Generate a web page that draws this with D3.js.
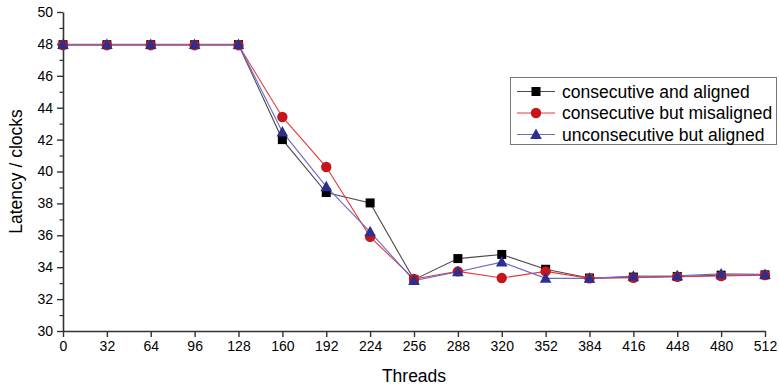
<!DOCTYPE html>
<html>
<head>
<meta charset="utf-8">
<script src="https://cdn.jsdelivr.net/npm/d3@7"></script>
<style>
  html, body { margin: 0; padding: 0; background: #fff; }
  svg { display: block; font-family: "Liberation Sans", Arial, sans-serif; }
</style>
</head>
<body>
<svg id="chart" width="779" height="389"></svg>
<script>
// Latency vs threads for three access patterns

const threads = [0, 32, 64, 96, 128, 160, 192, 224, 256, 288, 320, 352, 384, 416, 448, 480, 512]
const xTicks = [0, 32, 64, 96, 128, 160, 192, 224, 256, 288, 320, 352, 384, 416, 448, 480, 512]
const yTicks = [30, 32, 34, 36, 38, 40, 42, 44, 46, 48, 50]

const consecutiveAligned = [47.95, 47.95, 47.95, 47.95, 47.95, 42.0, 38.68, 38.03, 33.22, 34.54, 34.8, 33.87, 33.32, 33.38, 33.42, 33.5, 33.52]
const consecutiveMisaligned = [47.92, 47.92, 47.92, 47.92, 47.92, 43.42, 40.28, 35.9, 33.26, 33.74, 33.32, 33.74, 33.3, 33.34, 33.4, 33.45, 33.5]
const unconsecutiveAligned = [47.97, 47.97, 47.97, 47.97, 47.97, 42.48, 39.05, 36.22, 33.16, 33.72, 34.32, 33.3, 33.3, 33.44, 33.46, 33.58, 33.55]

const series = [
  { name: 'consecutive and aligned', values: consecutiveAligned, line: '#4a4a4a', fill: '#000000', shape: 'square' },
  { name: 'consecutive but misaligned', values: consecutiveMisaligned, line: '#e8383c', fill: '#c4161c', shape: 'circle' },
  { name: 'unconsecutive but aligned', values: unconsecutiveAligned, line: '#6a6ac8', fill: '#2e2e8e', shape: 'triangle' }
]

const margin = { left: 63, right: 14, top: 12, bottom: 58 }
const width = 779, height = 389

const svg = d3.select('#chart')

const x = d3.scaleLinear().domain([0, 512]).range([margin.left, width - margin.right])
const y = d3.scaleLinear().domain([30, 50]).range([height - margin.bottom, margin.top])

const axisColor = '#333'

// X axis
const xAxis = svg.append('g')
  .attr('transform', `translate(0,${y(30)})`)
  .call(d3.axisBottom(x).tickValues(xTicks).tickSize(6).tickPadding(4).tickSizeOuter(0))
xAxis.select('.domain').attr('stroke', axisColor).attr('stroke-width', 1.6)
xAxis.selectAll('.tick line').attr('stroke', axisColor).attr('stroke-width', 1.4)
xAxis.selectAll('.tick text').attr('fill', '#000').style('font-size', '14px')

// Y axis minor ticks
const yMinor = svg.append('g')
  .attr('transform', `translate(${x(0)},0)`)
  .call(d3.axisLeft(y).tickValues(d3.range(31, 50, 2)).tickSize(3.5).tickFormat('').tickSizeOuter(0))
yMinor.select('.domain').remove()
yMinor.selectAll('.tick line').attr('stroke', axisColor).attr('stroke-width', 1.2)

// Y axis
const yAxis = svg.append('g')
  .attr('transform', `translate(${x(0)},0)`)
  .call(d3.axisLeft(y).tickValues(yTicks).tickSize(6).tickPadding(4).tickSizeOuter(0))
yAxis.select('.domain').attr('stroke', axisColor).attr('stroke-width', 1.6)
yAxis.selectAll('.tick line').attr('stroke', axisColor).attr('stroke-width', 1.4)
yAxis.selectAll('.tick text').attr('fill', '#000').style('font-size', '14px')

// Axis titles
svg.append('text')
  .attr('x', (x(0) + x(512)) / 2)
  .attr('y', 382)
  .attr('text-anchor', 'middle')
  .style('font-size', '17.5px')
  .text('Threads')

svg.append('text')
  .attr('transform', `translate(22,${(y(30) + y(50)) / 2}) rotate(-90)`)
  .attr('text-anchor', 'middle')
  .style('font-size', '17.5px')
  .text('Latency / clocks')

const line = d3.line().x((d, i) => x(threads[i])).y(d => y(d))

function drawMarker(g, shape, cx, cy, fill) {
  if (shape === 'square') {
    g.append('rect').attr('x', cx - 4.5).attr('y', cy - 4.5).attr('width', 9).attr('height', 9).attr('fill', fill)
  } else if (shape === 'circle') {
    g.append('circle').attr('cx', cx).attr('cy', cy).attr('r', 5.2).attr('fill', fill)
  } else {
    g.append('path')
      .attr('d', `M${cx},${cy - 6}L${cx + 5.8},${cy + 4.5}L${cx - 5.8},${cy + 4.5}Z`)
      .attr('fill', fill)
  }
}

series.forEach(s => {
  svg.append('path')
    .datum(s.values)
    .attr('d', line)
    .attr('fill', 'none')
    .attr('stroke', s.line)
    .attr('stroke-width', 1.1)
})

series.forEach(s => {
  const g = svg.append('g')
  s.values.forEach((v, i) => drawMarker(g, s.shape, x(threads[i]), y(v), s.fill))
})

// Legend
const legend = svg.append('g')
legend.append('rect')
  .attr('x', 510.5).attr('y', 77.5).attr('width', 266).attr('height', 67)
  .attr('fill', '#fff').attr('stroke', '#777').attr('stroke-width', 1)

series.forEach((s, i) => {
  const ly = 91.5 + i * 21.5
  legend.append('line')
    .attr('x1', 517).attr('x2', 555).attr('y1', ly).attr('y2', ly)
    .attr('stroke', s.line).attr('stroke-width', 1.1)
  drawMarker(legend, s.shape, 536, ly, s.fill)
  legend.append('text')
    .attr('x', 562).attr('y', ly + 6)
    .style('font-size', '17.5px')
    .text(s.name)
})
</script>
</body>
</html>
